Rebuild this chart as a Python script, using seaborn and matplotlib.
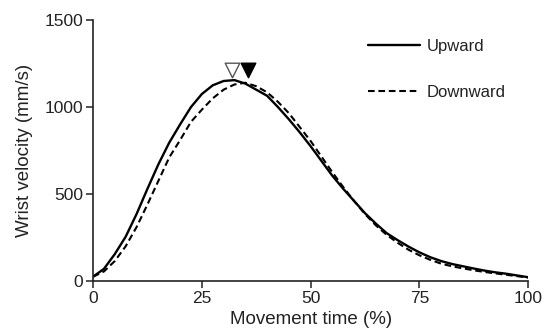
import matplotlib
matplotlib.use("Agg")
import matplotlib.pyplot as plt
import seaborn as sns
import pandas as pd
import numpy as np

# ---- data ----
time_pct = [0, 2.5, 5, 7.5, 10, 12.5, 15, 17.5, 20, 22.5, 25, 27.5, 30, 32.5, 35,
            37.5, 40, 42.5, 45, 47.5, 50, 52.5, 55, 57.5, 60, 62.5, 65, 67.5, 70,
            72.5, 75, 77.5, 80, 82.5, 85, 87.5, 90, 92.5, 95, 97.5, 100]
upward = [25, 70, 155, 255, 385, 530, 670, 795, 900, 1000, 1075, 1125, 1150, 1155, 1135,
          1100, 1065, 1000, 930, 855, 775, 690, 605, 530, 460, 390, 330, 275, 235,
          198, 165, 137, 115, 98, 85, 72, 60, 50, 42, 32, 22]
downward = [25, 55, 115, 200, 310, 440, 575, 710, 810, 915, 985, 1050, 1100, 1130, 1140,
            1120, 1085, 1030, 965, 885, 805, 715, 625, 540, 460, 385, 320, 265, 220,
            180, 148, 122, 100, 85, 73, 62, 52, 44, 36, 28, 20]
series_names = ["Upward", "Downward"]
peak_times = [32.0, 35.7]          # open (upward) and filled (downward) peak markers
peak_marker_y = [1215, 1212]

x_ticks = [0, 25, 50, 75, 100]
y_ticks = [0, 500, 1000, 1500]

df = pd.DataFrame({
    "time": time_pct * 2,
    "velocity": upward + downward,
    "direction": [series_names[0]] * len(time_pct) + [series_names[1]] * len(time_pct),
})

sns.set_theme(style="ticks")
plt.rcParams["font.family"] = ["Liberation Sans", "DejaVu Sans"]

fig = plt.figure(figsize=(5.44, 3.35), dpi=100)
ax = fig.add_axes([0.171, 0.161, 0.800, 0.779])

sns.lineplot(data=df, x="time", y="velocity", hue="direction", style="direction",
             palette={"Upward": "black", "Downward": "black"},
             dashes={"Upward": "", "Downward": (3.2, 1.8)},
             ax=ax, legend=False)
ax.lines[0].set_linewidth(1.7)
ax.lines[1].set_linewidth(1.5)

sns.scatterplot(x=[peak_times[0]], y=[peak_marker_y[0]], marker="v", s=110,
                facecolor="white", edgecolor="#555555", linewidth=1.0, ax=ax, zorder=5)
sns.scatterplot(x=[peak_times[1]], y=[peak_marker_y[1]], marker="v", s=110,
                color="black", edgecolor="black", linewidth=1.0, ax=ax, zorder=5)

ax.set_xlim(0, 100)
ax.set_ylim(0, 1500)
ax.set_xticks(x_ticks)
ax.set_yticks(y_ticks)
ax.set_xlabel("Movement time (%)", fontsize=13.5, color="#222222", labelpad=4)
ax.set_ylabel("Wrist velocity (mm/s)", fontsize=13.5, color="#222222", labelpad=8)
ax.tick_params(axis="both", labelsize=12.5, colors="#222222", length=5, width=1.1, pad=2)
for s in ["left", "bottom"]:
    ax.spines[s].set_linewidth(1.2)
    ax.spines[s].set_color("#222222")
sns.despine(ax=ax)

from matplotlib.lines import Line2D
handles = [Line2D([], [], color="black", lw=1.7),
           Line2D([], [], color="black", lw=1.5, dashes=(3.2, 1.8))]
leg = ax.legend(handles, series_names, loc="upper left", bbox_to_anchor=(0.597, 0.985),
                frameon=False, fontsize=12, handlelength=3.1, handletextpad=0.45,
                labelspacing=1.85)
for t in leg.get_texts():
    t.set_color("#222222")

fig.savefig("out.png", dpi=100)
